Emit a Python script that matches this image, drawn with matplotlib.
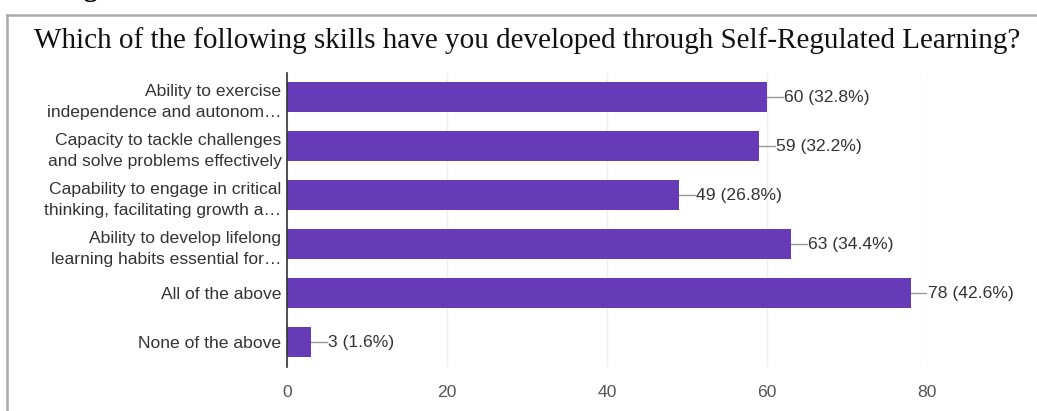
import matplotlib.pyplot as plt
from matplotlib.lines import Line2D

categories = [
    "Ability to exercise\nindependence and autonom\u2026",
    "Capacity to tackle challenges\nand solve problems effectively",
    "Capability to engage in critical\nthinking, facilitating growth a\u2026",
    "Ability to develop lifelong\nlearning habits essential for\u2026",
    "All of the above",
    "None of the above",
]
counts = [60, 59, 49, 63, 78, 3]
percents = [32.8, 32.2, 26.8, 34.4, 42.6, 1.6]
xticks = [0, 20, 40, 60, 80]

W, H = 1037, 411
fig = plt.figure(figsize=(W / 100, H / 100), dpi=100)
plt.rcParams['font.family'] = ['Liberation Sans', 'DejaVu Sans']

# frame of the screenshot
fig.add_artist(Line2D([7 / W, 1], [1 - 15 / H, 1 - 15 / H], color='#aaaaaa', lw=1.8))
fig.add_artist(Line2D([7 / W, 7 / W], [0, 1 - 15 / H], color='#aaaaaa', lw=1.8))
# cut off heading above the frame
fig.text(60 / W, 1 + 4 / H, "Figure", fontsize=20, fontweight='bold',
         family='Liberation Serif', va='baseline', ha='left')

fig.text(527 / W, 1 - 41 / H,
         "Which of the following skills have you developed through Self-Regulated Learning?",
         family='Liberation Serif', fontsize=21, ha='center', va='center', color='#111111')

ax = fig.add_axes([287 / W, 1 - 366.7 / H, 640 / W, 294 / H])
y = list(range(len(categories)))
ax.barh(y, counts, height=0.62, color='#673ab7', zorder=3)
for yi, c, p in zip(y, counts, percents):
    ax.plot([c, c + 2], [yi, yi], color='#999999', lw=1, zorder=2)
    ax.text(c + 2.1, yi, f"{c} ({p}%)", va='center', ha='left', fontsize=12.6, color='#333333')

ax.set_ylim(5.5, -0.5)
ax.set_xlim(0, 80)
ax.set_xticks(xticks)
ax.set_yticks(y)
ax.set_yticklabels(categories, fontsize=12.6, color='#333333', linespacing=1.55)
ax.tick_params(axis='y', length=0, pad=4)
ax.tick_params(axis='x', length=0, pad=13, labelsize=12.6, labelcolor='#555555')
ax.grid(axis='x', color='#eeeeee', lw=1, zorder=0)
for s in ['top', 'right', 'bottom']:
    ax.spines[s].set_visible(False)
ax.spines['left'].set_color('#333333')
ax.spines['left'].set_linewidth(1.2)
ax.spines['left'].set_zorder(4)

fig.savefig('out.png', dpi=100)
